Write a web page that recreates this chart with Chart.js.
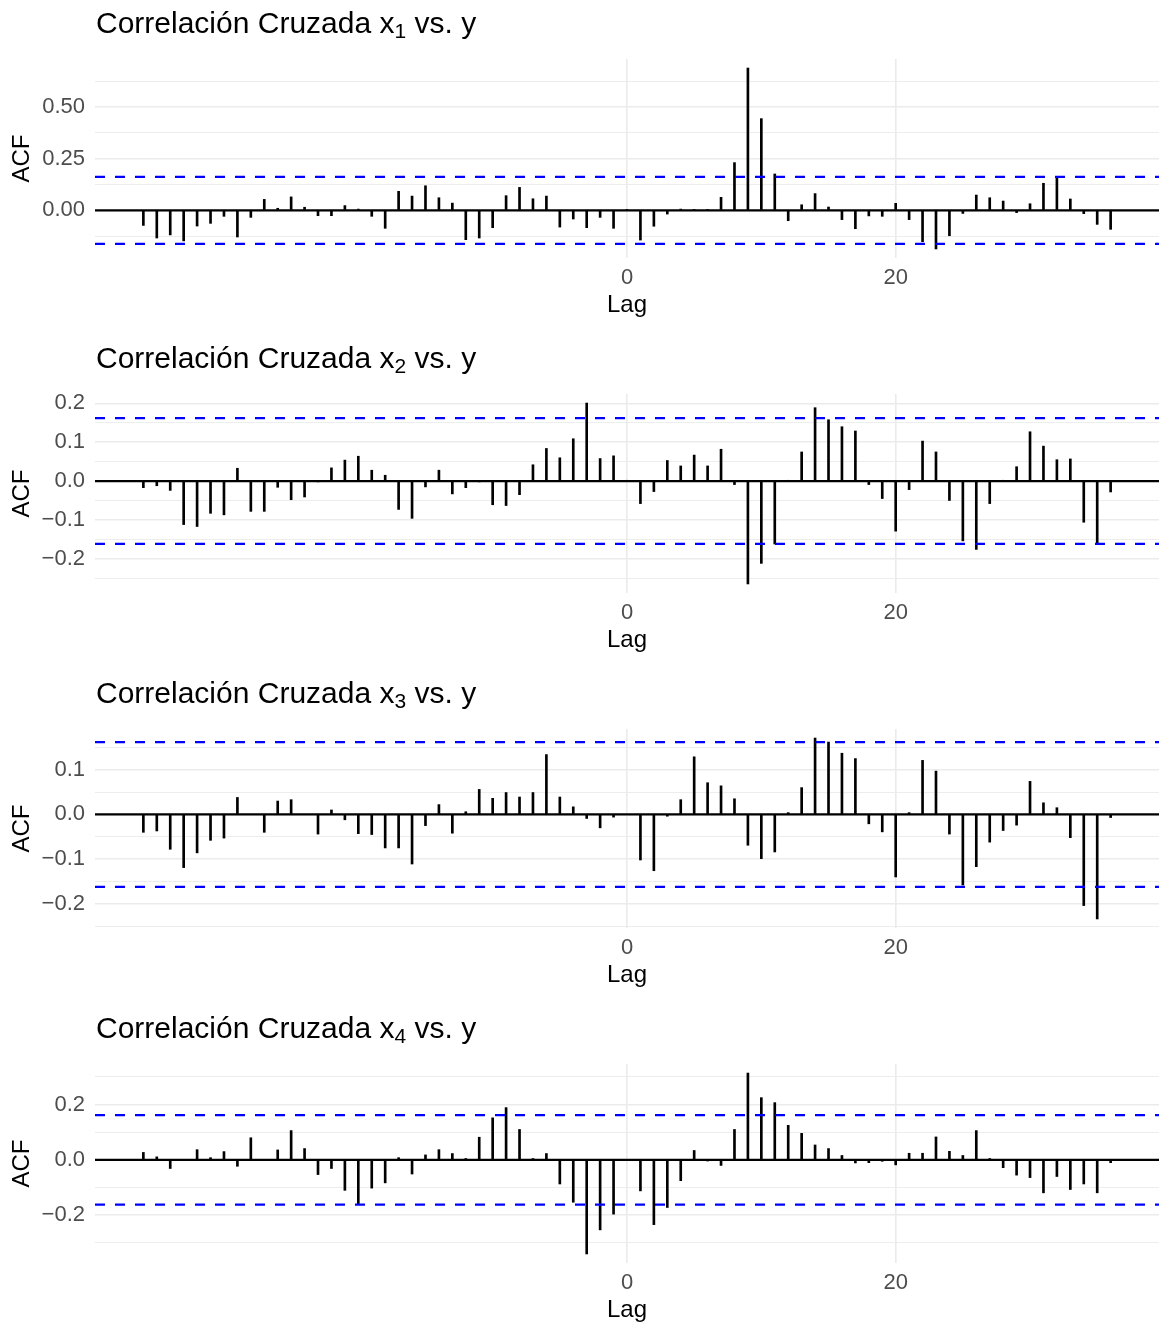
<!DOCTYPE html>
<html>
<head>
<meta charset="utf-8">
<script src="https://cdn.jsdelivr.net/npm/chart.js@4.4.1/dist/chart.umd.min.js"></script>
<style>
  body { margin: 0; background: #fff; overflow: hidden; }
  .panel { width: 1163px; height: 335px; }
  canvas { display: block; }
</style>
</head>
<body>
<div class="panel"><canvas id="c1" width="1163" height="335"></canvas></div>
<div class="panel"><canvas id="c2" width="1163" height="335"></canvas></div>
<div class="panel"><canvas id="c3" width="1163" height="335"></canvas></div>
<div class="panel"><canvas id="c4" width="1163" height="335"></canvas></div>
<script>
// lags -36 .. 36
const lags = [-36,-35,-34,-33,-32,-31,-30,-29,-28,-27,-26,-25,-24,-23,-22,-21,-20,-19,-18,-17,-16,-15,-14,-13,-12,-11,-10,-9,-8,-7,-6,-5,-4,-3,-2,-1,
  0,1,2,3,4,5,6,7,8,9,10,11,12,13,14,15,16,17,18,19,20,21,22,23,24,25,26,27,28,29,30,31,32,33,34,35,36];

// cross correlation x_i vs y
const ccfX1 = [-0.073,-0.134,-0.119,-0.148,-0.076,-0.063,-0.029,-0.129,-0.034,0.053,0.010,0.065,0.015,-0.026,-0.026,0.023,0.006,-0.029,-0.087,0.092,0.069,0.119,0.061,0.035,-0.142,-0.134,-0.084,0.071,0.111,0.056,0.069,-0.081,-0.042,-0.084,-0.034,-0.087,
  0.002,
  -0.144,-0.077,-0.018,0.006,0.005,0.002,0.063,0.231,0.689,0.444,0.176,-0.050,0.027,0.081,0.016,-0.045,-0.089,-0.027,-0.029,0.034,-0.045,-0.152,-0.187,-0.123,-0.015,0.074,0.061,0.045,-0.011,0.032,0.131,0.156,0.055,-0.016,-0.068,-0.092];
const ccfX2 = [-0.017,-0.012,-0.024,-0.112,-0.117,-0.083,-0.087,0.033,-0.078,-0.078,-0.016,-0.048,-0.041,-0.002,0.034,0.054,0.064,0.028,0.015,-0.073,-0.096,-0.015,0.028,-0.033,-0.017,-0.001,-0.061,-0.063,-0.035,0.042,0.084,0.060,0.109,0.201,0.058,0.065,
  0.001,
  -0.058,-0.027,0.053,0.039,0.067,0.039,0.082,-0.009,-0.265,-0.212,-0.162,0.002,0.075,0.189,0.158,0.140,0.129,-0.009,-0.045,-0.129,-0.022,0.103,0.075,-0.050,-0.154,-0.176,-0.058,0.002,0.037,0.127,0.090,0.055,0.057,-0.106,-0.162,-0.028];
const ccfX3 = [-0.040,-0.037,-0.078,-0.119,-0.086,-0.058,-0.053,0.038,0.000,-0.040,0.030,0.033,0.000,-0.044,0.010,-0.012,-0.043,-0.045,-0.075,-0.075,-0.111,-0.025,0.022,-0.042,0.006,0.056,0.036,0.049,0.039,0.049,0.134,0.039,0.017,-0.009,-0.030,-0.006,
  0.000,
  -0.102,-0.126,-0.004,0.033,0.129,0.071,0.064,0.035,-0.069,-0.099,-0.084,0.004,0.060,0.171,0.162,0.137,0.125,-0.021,-0.039,-0.140,0.004,0.121,0.097,-0.044,-0.158,-0.117,-0.062,-0.036,-0.024,0.074,0.026,0.015,-0.052,-0.204,-0.234,-0.007];
const ccfX4 = [0.027,0.011,-0.031,0.000,0.037,0.008,0.030,-0.023,0.080,0.000,0.036,0.106,0.041,-0.053,-0.031,-0.110,-0.159,-0.102,-0.083,0.008,-0.051,0.018,0.037,0.023,0.005,0.082,0.152,0.189,0.110,0.005,0.023,-0.087,-0.153,-0.340,-0.253,-0.196,
  0.000,
  -0.112,-0.234,-0.172,-0.075,0.034,-0.004,-0.020,0.110,0.314,0.225,0.207,0.125,0.096,0.054,0.041,0.016,-0.011,-0.010,-0.005,-0.018,0.024,0.024,0.083,0.031,0.016,0.106,0.005,-0.028,-0.055,-0.064,-0.119,-0.060,-0.107,-0.087,-0.119,-0.010];

// confidence band (+/-)
const ciLimit = 0.162;

// tick labels
const xTicks = [0, 20];
const yTicks1 = [0, 0.25, 0.5];
const yLabels1 = ['0.00', '0.25', '0.50'];
const yTicks2 = [-0.2, -0.1, 0, 0.1, 0.2];
const yLabels2 = ['\u22120.2', '\u22120.1', '0.0', '0.1', '0.2'];
const yTicks3 = [-0.2, -0.1, 0, 0.1];
const yLabels3 = ['\u22120.2', '\u22120.1', '0.0', '0.1'];
const yTicks4 = [-0.2, 0, 0.2];
const yLabels4 = ['\u22120.2', '0.0', '0.2'];

const subs = ['1', '2', '3', '4'];

Chart.defaults.font.family = '"Liberation Sans", Arial, Helvetica, sans-serif';
Chart.defaults.animation = false;

// title with subscript, ggplot style
const titlePlugin = {
  id: 'subTitle',
  afterDraw(chart, args, opts) {
    const ctx = chart.ctx;
    const fam = Chart.defaults.font.family;
    ctx.save();
    ctx.fillStyle = '#000';
    ctx.textBaseline = 'alphabetic';
    let x = 96;
    ctx.font = '30px ' + fam;
    ctx.fillText('Correlación Cruzada x', x, 33);
    x += ctx.measureText('Correlación Cruzada x').width;
    ctx.font = '21px ' + fam;
    ctx.fillText(opts.sub, x, 38);
    x += ctx.measureText(opts.sub).width;
    ctx.font = '30px ' + fam;
    ctx.fillText(' vs. y', x, 33);
    ctx.restore();
  }
};

const near = (a, b) => Math.abs(a - b) < 1e-6;

function makeChart(id, values, majors, labels, sub) {
  // ggplot-like 5% expansion
  const xmin = Math.min(...lags), xmax = Math.max(...lags);
  const xpad = (xmax - xmin) * 0.05;
  const lo = Math.min(Math.min(...values), -ciLimit);
  const hi = Math.max(Math.max(...values), ciLimit);
  const ypad = (hi - lo) * 0.05;
  const ymin = lo - ypad, ymax = hi + ypad;

  const half = (majors[1] - majors[0]) / 2;
  const yGrid = [];
  for (let k = Math.ceil(ymin / half); k * half <= ymax; k++) yGrid.push(+(k * half).toFixed(6));

  const ends = [xmin - xpad, xmax + xpad];

  new Chart(document.getElementById(id), {
    type: 'bar',
    data: {
      datasets: [
        {
          type: 'line',
          data: ends.map(x => ({x: x, y: ciLimit})),
          borderColor: '#0000FF',
          borderWidth: 2.2,
          borderDash: [10, 10],
          pointRadius: 0,
          order: 0
        },
        {
          type: 'line',
          data: ends.map(x => ({x: x, y: -ciLimit})),
          borderColor: '#0000FF',
          borderWidth: 2.2,
          borderDash: [10, 10],
          pointRadius: 0,
          order: 0
        },
        {
          type: 'line',
          data: ends.map(x => ({x: x, y: 0})),
          borderColor: '#000',
          borderWidth: 2.3,
          pointRadius: 0,
          order: 1
        },
        {
          data: lags.map((l, i) => ({x: l, y: values[i]})),
          backgroundColor: '#000',
          barThickness: 2,
          grouped: false,
          order: 2
        }
      ]
    },
    options: {
      responsive: false,
      layout: {padding: {top: 59, left: 0, right: 4, bottom: 0}},
      plugins: {
        legend: {display: false},
        tooltip: {enabled: false},
        subTitle: {sub: sub}
      },
      scales: {
        x: {
          type: 'linear',
          min: ends[0],
          max: ends[1],
          offset: false,
          afterBuildTicks: s => { s.ticks = xTicks.map(v => ({value: v})); },
          afterFit: s => { s.height = 77; },
          grid: {color: '#EBEBEB', lineWidth: 1.6, drawTicks: false, offset: false},
          border: {display: false},
          ticks: {color: '#4D4D4D', font: {size: 22}, padding: 7, autoSkip: false, maxRotation: 0,
            callback: v => String(v)},
          title: {display: true, text: 'Lag', color: '#000', font: {size: 24}, padding: {top: 0, bottom: 15}}
        },
        y: {
          min: ymin,
          max: ymax,
          afterBuildTicks: s => { s.ticks = yGrid.map(v => ({value: v})); },
          afterFit: s => { s.width = 95; },
          grid: {
            color: '#EBEBEB',
            lineWidth: c => majors.some(m => near(m, c.tick.value)) ? 1.6 : 0.9,
            drawTicks: false
          },
          border: {display: false},
          ticks: {
            color: '#4D4D4D', font: {size: 22}, padding: 10, autoSkip: false,
            callback: v => {
              const i = majors.findIndex(m => near(m, v));
              return i >= 0 ? labels[i] : '';
            }
          },
          title: {display: true, text: 'ACF', color: '#000', font: {size: 24}, padding: {top: 8, bottom: 0}}
        }
      }
    },
    plugins: [titlePlugin]
  });
}

makeChart('c1', ccfX1, yTicks1, yLabels1, subs[0]);
makeChart('c2', ccfX2, yTicks2, yLabels2, subs[1]);
makeChart('c3', ccfX3, yTicks3, yLabels3, subs[2]);
makeChart('c4', ccfX4, yTicks4, yLabels4, subs[3]);
</script>
</body>
</html>
